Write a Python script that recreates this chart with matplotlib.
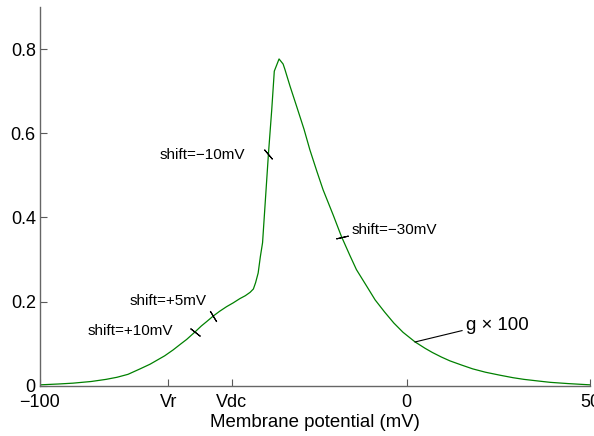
import numpy as np
import matplotlib
matplotlib.use("Agg")
import matplotlib.pyplot as plt

plt.rcParams['font.family'] = ['Liberation Sans', 'DejaVu Sans']

# curve g*100 vs membrane potential
v_mV = [-100, -95, -91, -86, -82, -79, -76, -72.7, -70, -68.2, -66, -63.7,
        -61.5, -60, -57.7, -56, -54.6, -52.7, -51, -49.1, -47.3, -45.5, -44,
        -42.7, -41.8, -41.2, -40.5, -39.9, -39.3, -37.7, -36.8, -36.1, -34.8,
        -33.7, -33.2, -31.8, -30.0, -28, -26.4, -24.5, -22.8, -20, -17.8,
        -15.5, -13.7, -11, -8.6, -6, -3.5, -1, 2.3, 5, 7, 9.5, 11.8, 15, 18,
        21.5, 25.4, 29, 32, 36, 39.1, 44, 50]
g100 = [0.002, 0.004, 0.006, 0.010, 0.015, 0.020, 0.027, 0.040, 0.051, 0.060,
        0.071, 0.085, 0.100, 0.110, 0.128, 0.142, 0.152, 0.166, 0.177, 0.188,
        0.197, 0.207, 0.214, 0.222, 0.230, 0.245, 0.268, 0.307, 0.340, 0.551,
        0.656, 0.748, 0.777, 0.765, 0.752, 0.712, 0.664, 0.610, 0.561, 0.510,
        0.466, 0.405, 0.355, 0.310, 0.276, 0.238, 0.204, 0.175, 0.149, 0.127,
        0.104, 0.089, 0.079, 0.068, 0.059, 0.049, 0.040, 0.032, 0.025, 0.019,
        0.015, 0.011, 0.008, 0.005, 0.002]

Vr = -65
Vdc = -47.7
shifts = [10, 5, -10, -30]
shift_angles = [52, 31, 40, -77]
shift_text_pos = [(-87.1, 0.129), (-75.5, 0.201), (-67.3, 0.549), (-14.9, 0.371)]

fig = plt.figure(figsize=(5.94, 4.36), dpi=100)
ax = fig.add_axes([0.0673, 0.1154, 0.926, 0.868])

ax.plot(v_mV, g100, color='#008000', lw=0.9)

# shift markers on the curve
for s, ang, (tx, ty) in zip(shifts, shift_angles, shift_text_pos):
    mx = Vdc - s
    my = np.interp(mx, v_mV, g100)
    ax.plot([mx], [my], marker=(2, 2, ang), ms=9, mec='black', mew=0.8, ls='none')
    lab = 'shift=%+dmV' % s
    lab = lab.replace('-', '\u2212')
    ax.text(tx, ty, lab, fontsize=11, va='center', ha='left')

# g x 100 label with pointer
ax.plot([2.3, 15.1], [0.104, 0.131], color='black', lw=0.8)
ax.text(16.1, 0.142, 'g \u00d7 100', fontsize=13.4, va='center', ha='left')

ax.set_xlim(-100, 50)
ax.set_ylim(0, 0.9)
ax.set_xticks([-100, Vr, Vdc, 0, 50])
ax.set_xticklabels(['\u2212100', 'Vr', 'Vdc', '0', '50'])
ax.set_yticks([0, 0.2, 0.4, 0.6, 0.8])
ax.set_yticklabels(['0', '0.2', '0.4', '0.6', '0.8'])
ax.tick_params(direction='in', length=5, width=0.8, labelsize=13, colors='0.35',
               labelcolor='black')
ax.tick_params(axis='x', pad=6)
ax.tick_params(axis='y', pad=3)

for side in ['top', 'right']:
    ax.spines[side].set_visible(False)
for side in ['left', 'bottom']:
    ax.spines[side].set_color('0.4')
    ax.spines[side].set_linewidth(1.0)

ax.set_xlabel('Membrane potential (mV)', fontsize=13.4, labelpad=2)

fig.savefig('out.png', dpi=100)
